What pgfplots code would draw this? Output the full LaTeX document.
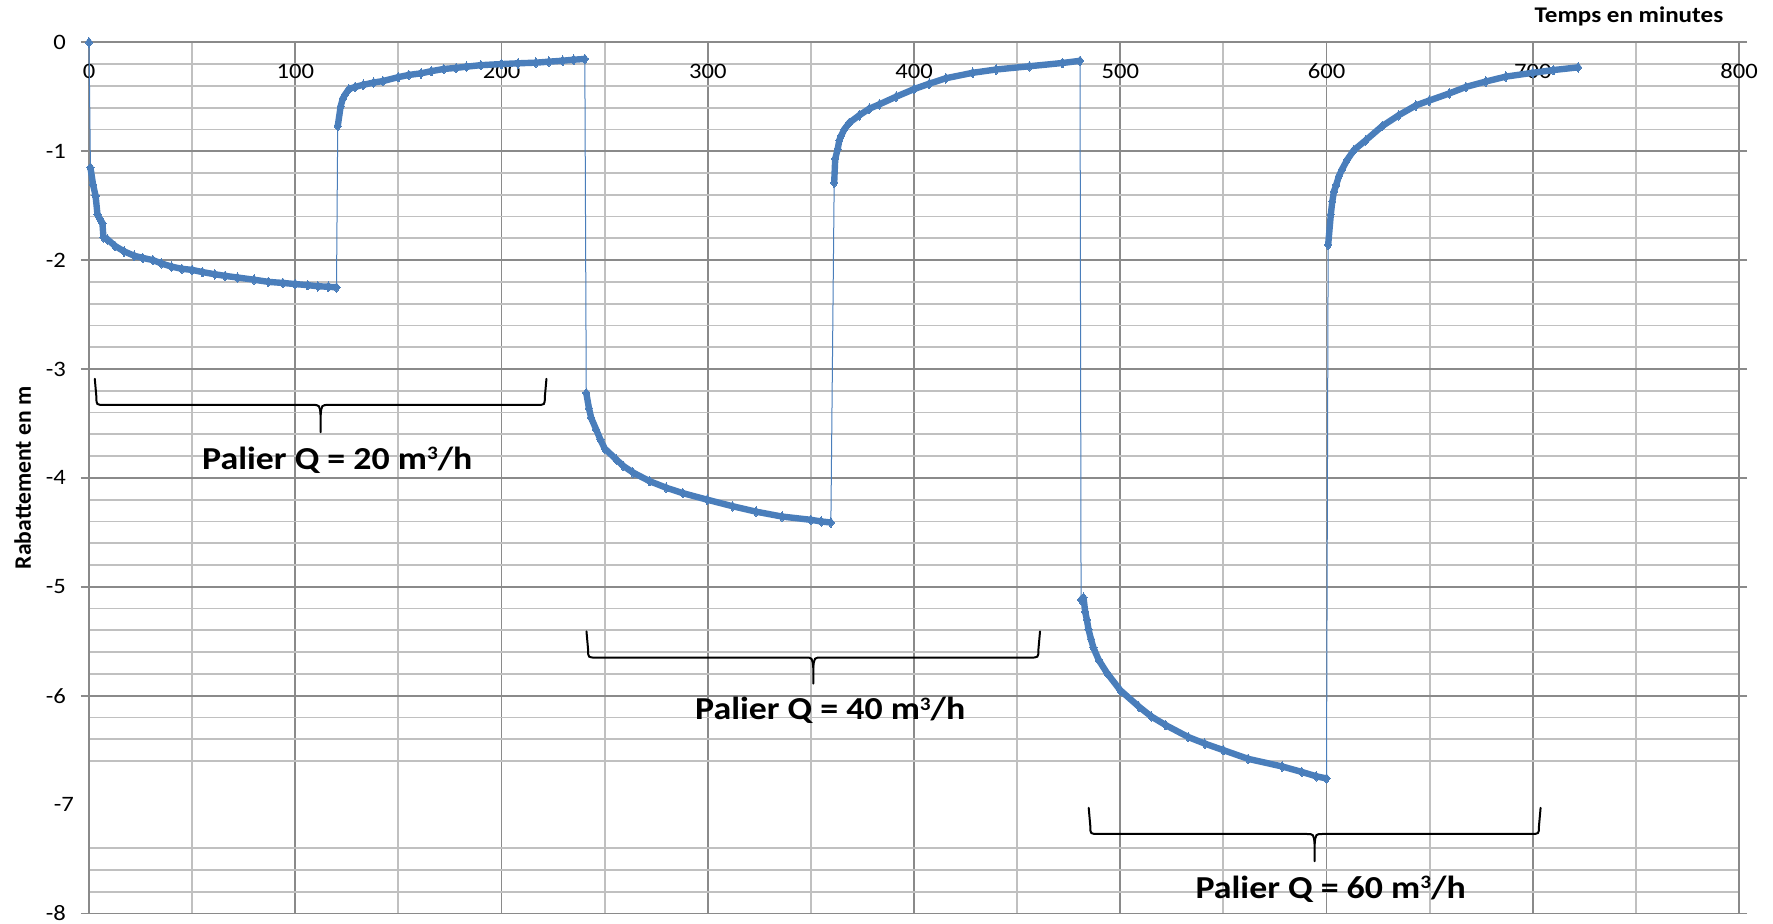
\documentclass[border=0pt]{standalone}
\usepackage{fontspec}
\setmainfont{Carlito}[FakeStretch=1.12]
\newfontfamily\plainfont{Carlito}
\usepackage{pgfplots}
\pgfplotsset{compat=1.18}
\usepackage{pgfplotstable}
\definecolor{serie}{RGB}{74,126,187}
\definecolor{majgrid}{RGB}{138,138,138}
\definecolor{mingrid}{RGB}{192,192,192}
\newcommand{\cube}{\raisebox{4.8pt}{\fontsize{9.5}{9.5}\selectfont 3}}

\pgfplotstableread{
t s
0 0
nan nan
0.7 -1.15
2 -1.31
3.2 -1.41
4.1 -1.58
5.2 -1.62
6.5 -1.66
7 -1.79
9 -1.81
12.6 -1.87
17 -1.92
21.9 -1.96
26 -1.98
31 -2.00
35 -2.03
40 -2.06
45 -2.08
50 -2.09
55 -2.11
61 -2.13
66 -2.145
72 -2.16
80 -2.18
87 -2.20
94 -2.21
100 -2.22
106 -2.23
111 -2.24
116 -2.245
120 -2.25
nan nan
120.6 -0.77
122 -0.59
123 -0.52
124 -0.485
126 -0.43
129 -0.41
133 -0.39
138 -0.37
142.5 -0.356
150 -0.32
155 -0.30
161 -0.285
166 -0.265
172 -0.245
178 -0.235
183 -0.224
190 -0.21
200 -0.20
208 -0.193
216.7 -0.187
223 -0.178
229.7 -0.169
235 -0.16
240.4 -0.153
nan nan
241.1 -3.22
242.4 -3.36
243.5 -3.45
246 -3.56
248 -3.65
250 -3.73
255.6 -3.83
259 -3.89
263.7 -3.95
271.8 -4.03
279.8 -4.09
287.9 -4.14
299.7 -4.20
312 -4.26
323.4 -4.31
336 -4.355
350 -4.385
355 -4.40
359.7 -4.41
nan nan
361.3 -1.29
361.8 -1.07
363 -0.98
363.8 -0.90
364.6 -0.86
366.2 -0.80
368.6 -0.74
373.5 -0.67
378.3 -0.61
383.2 -0.57
391.3 -0.50
400 -0.43
407.4 -0.38
415.5 -0.33
428.5 -0.28
439.8 -0.25
456 -0.22
472 -0.19
480.5 -0.17
nan nan
481 -5.12
482.2 -5.10
483 -5.23
483.8 -5.30
484.6 -5.39
485.8 -5.48
487 -5.56
489.5 -5.67
493.5 -5.79
500 -5.95
509 -6.10
515 -6.19
522 -6.27
533 -6.38
541 -6.44
550 -6.50
562 -6.58
578.5 -6.65
588 -6.70
595 -6.74
600 -6.76
nan nan
600.8 -1.86
602.1 -1.58
602.8 -1.46
603.6 -1.37
604.7 -1.31
606 -1.23
607.6 -1.165
610 -1.08
613.3 -0.99
619 -0.90
627 -0.77
635 -0.67
643.3 -0.58
649.8 -0.535
659.5 -0.47
667.6 -0.41
677.3 -0.36
687 -0.315
700 -0.28
710 -0.255
722 -0.23
}\rabattement

% brace: #1 left x, #2 right x, #3 centre x, #4 top of ends, #5 level of line, #6 tip
\newcommand{\accolade}[6]{%
  \draw[black, line width=1pt, line cap=round]
    (axis cs:#1-0.8,#4) -- (axis cs:#1,#5+0.07)
    .. controls (axis cs:#1,#5) .. (axis cs:#1+4,#5)
    -- (axis cs:#3-4,#5)
    .. controls (axis cs:#3-0.5,#5) .. (axis cs:#3,#5-0.09)
    -- (axis cs:#3,#6);
  \draw[black, line width=1pt, line cap=round]
    (axis cs:#2+0.8,#4) -- (axis cs:#2,#5+0.07)
    .. controls (axis cs:#2,#5) .. (axis cs:#2-4,#5)
    -- (axis cs:#3+4,#5)
    .. controls (axis cs:#3+0.5,#5) .. (axis cs:#3,#5-0.09);
}

\begin{document}
\begin{tikzpicture}
\path[use as bounding box] (-44.5pt,-5.25pt) rectangle (842pt,456.75pt);
\begin{axis}[
  at={(0,0)}, anchor=south west,
  scale only axis, width=825pt, height=435.6pt,
  xmin=0, xmax=800, ymin=-8, ymax=0,
  xtick={0,100,...,800}, minor x tick num=1,
  ytick={-8,-6,-5,-4,-3,-2,-1,0},
  extra y ticks={-7},
  extra y tick style={grid=none, major tick length=0pt},
  minor ytick={-7.8,-7.6,-7.4,-6.6,-6.4,-6.2,-5.8,-5.6,-5.4,-5.2,-4.8,-4.6,-4.4,-4.2,-3.8,-3.6,-3.4,-3.2,-2.8,-2.6,-2.4,-2.2,-1.8,-1.6,-1.4,-1.2,-0.8,-0.6,-0.4,-0.2},
  grid=both,
  major grid style={draw=majgrid, line width=0.9pt},
  minor grid style={draw=mingrid, line width=0.9pt},
  axis line style={draw=majgrid, line width=0.9pt},
  xticklabel pos=upper,
  xticklabel style={anchor=center, yshift=-18.6pt},
  x tick style={draw=none},
  y tick style={draw=majgrid, line width=0.9pt},
  tick align=outside, major tick length=4pt, minor tick length=0pt,
  yticklabel style={xshift=-4pt},
  tick label style={font=\fontsize{11}{13}\selectfont},
  /pgf/number format/assume math mode=true,
  clip=false,
]
\addplot[serie, line width=0.5pt, no marks, unbounded coords=discard] table[x=t, y=s] {\rabattement};
\addplot[serie, line width=3.2pt, line join=round, unbounded coords=jump,
  mark=diamond*, mark size=2.4pt, mark options={solid, line width=0pt}] table[x=t, y=s] {\rabattement};

\accolade{3.6}{221}{112.3}{-3.09}{-3.33}{-3.58}
\accolade{242}{460.3}{351.15}{-5.41}{-5.65}{-5.89}
\accolade{485.5}{703}{594.25}{-7.03}{-7.27}{-7.52}

\node[anchor=base, inner sep=0pt, font=\fontsize{16}{18}\selectfont\bfseries] at (axis cs:120.4,-3.92) {Palier Q = 20 m\cube/h};
\node[anchor=base, inner sep=0pt, font=\fontsize{16}{18}\selectfont\bfseries] at (axis cs:359.4,-6.22) {Palier Q = 40 m\cube/h};
\node[anchor=base, inner sep=0pt, font=\fontsize{16}{18}\selectfont\bfseries] at (axis cs:602,-7.86) {Palier Q = 60 m\cube/h};

\node[anchor=base, inner sep=0pt, font=\fontsize{11.2}{13}\selectfont\bfseries] at (axis description cs:0.9333,1.0222) {Temps en minutes};
\node[rotate=90, anchor=center, inner sep=0pt, font=\plainfont\fontsize{11.8}{13}\selectfont\bfseries] at (axis description cs:-0.0402,0.5) {Rabattement en m};
\end{axis}
\end{tikzpicture}
\end{document}
